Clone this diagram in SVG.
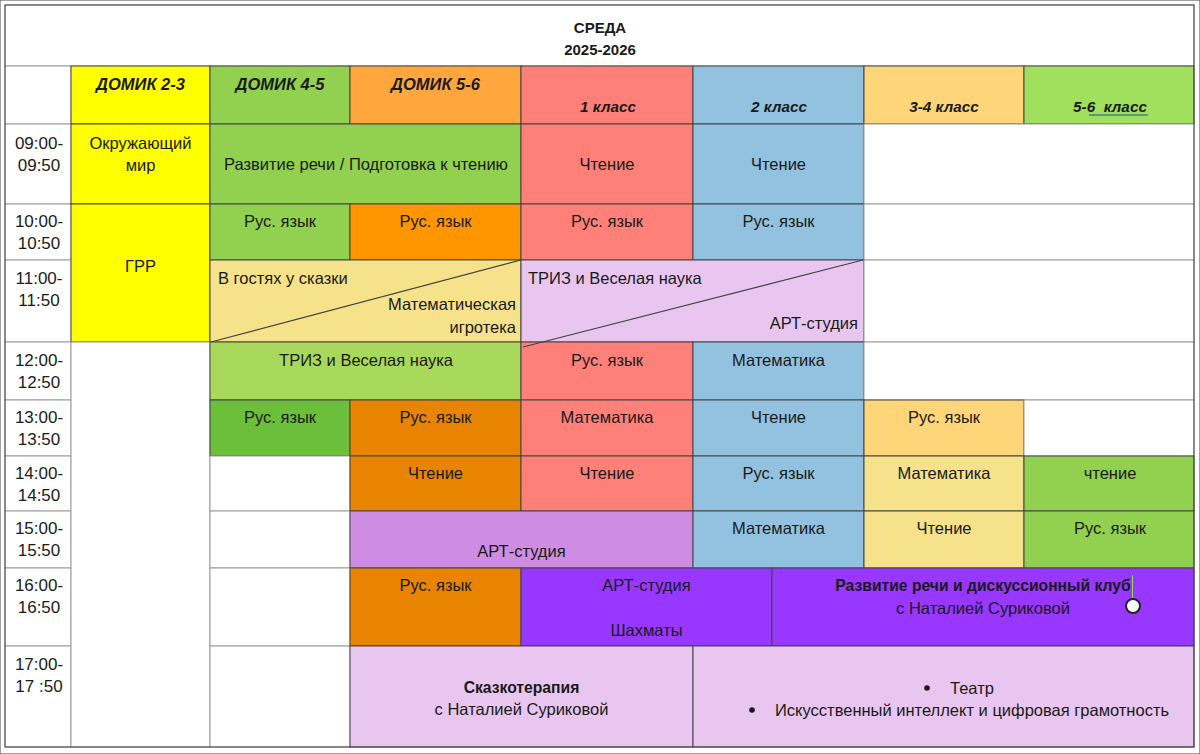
<svg xmlns="http://www.w3.org/2000/svg" width="1200" height="754" viewBox="0 0 1200 754">
<style>
text{font-family:"Liberation Sans",Arial,sans-serif;font-size:16.5px;fill:#1a1a1a}
.c{text-anchor:middle}
.r{text-anchor:end}
.b{font-weight:bold;font-size:15.7px}
.t{font-size:15px;font-weight:bold}
.h{font-weight:bold;font-style:italic;font-size:15.3px}
.hd{font-weight:bold;font-style:italic;font-size:16.5px}
.tm{font-size:17px}
rect{stroke:#444;stroke-width:1}
.w{fill:#fff;stroke:#999}
.diag{stroke:#444;stroke-width:1.2}
</style>
<rect x="0" y="0" width="1200" height="754" fill="#fff" stroke="none"/>
<g id="title">
<rect class="w" x="5" y="5" width="1189" height="61"/>
<text class="c t" x="600" y="33">СРЕДА</text>
<text class="c t" x="600" y="55">2025-2026</text>
</g>
<g id="header">
<rect class="w" x="5" y="66" width="66" height="58"/>
<rect x="71" y="66" width="139" height="58" fill="#FFFF00"/>
<rect x="210" y="66" width="140" height="58" fill="#92D050"/>
<rect x="350" y="66" width="171" height="58" fill="#FFA73D"/>
<rect x="521" y="66" width="172" height="58" fill="#FF8079"/>
<rect x="693" y="66" width="171" height="58" fill="#92C2DF"/>
<rect x="864" y="66" width="160" height="58" fill="#FFD579" stroke="#999"/>
<rect x="1024" y="66" width="170" height="58" fill="#A0E05C" stroke="#999"/>
<text class="c hd" x="140.5" y="90">ДОМИК 2-3</text>
<text class="c hd" x="280" y="90">ДОМИК 4-5</text>
<text class="c hd" x="435.5" y="90">ДОМИК 5-6</text>
<text class="c h" x="608" y="112">1 класс</text>
<text class="c h" x="779" y="112">2 класс</text>
<text class="c h" x="944" y="112">3-4 класс</text>
<text class="c h" x="1110" y="112">5-6&#160; класс</text>
<line x1="1089" y1="115" x2="1148" y2="115" stroke="#1F4FA8" stroke-width="1"/>
</g>
<g id="times">
<rect class="w" x="5" y="124" width="66" height="80"/>
<rect class="w" x="5" y="204" width="66" height="56"/>
<rect class="w" x="5" y="260" width="66" height="82"/>
<rect class="w" x="5" y="342" width="66" height="58"/>
<rect class="w" x="5" y="400" width="66" height="56"/>
<rect class="w" x="5" y="456" width="66" height="55"/>
<rect class="w" x="5" y="511" width="66" height="57"/>
<rect class="w" x="5" y="568" width="66" height="78"/>
<rect class="w" x="5" y="646" width="66" height="101"/>
<text class="c tm" x="39" y="149">09:00-</text><text class="c tm" x="39" y="171">09:50</text>
<text class="c tm" x="39" y="227">10:00-</text><text class="c tm" x="39" y="249">10:50</text>
<text class="c tm" x="39" y="284">11:00-</text><text class="c tm" x="39" y="306">11:50</text>
<text class="c tm" x="39" y="366">12:00-</text><text class="c tm" x="39" y="388">12:50</text>
<text class="c tm" x="39" y="423">13:00-</text><text class="c tm" x="39" y="445">13:50</text>
<text class="c tm" x="39" y="479">14:00-</text><text class="c tm" x="39" y="501">14:50</text>
<text class="c tm" x="39" y="534">15:00-</text><text class="c tm" x="39" y="556">15:50</text>
<text class="c tm" x="39" y="591">16:00-</text><text class="c tm" x="39" y="613">16:50</text>
<text class="c tm" x="39" y="670">17:00-</text><text class="c tm" x="39" y="692">17 :50</text>
</g>
<g id="row09">
<rect x="71" y="124" width="139" height="80" fill="#FFFF00"/>
<text class="c" x="140.5" y="149">Окружающий</text><text class="c" x="140.5" y="171">мир</text>
<rect x="210" y="124" width="311" height="80" fill="#92D050"/>
<text class="c" x="366" y="170">Развитие речи / Подготовка к чтению</text>
<rect x="521" y="124" width="172" height="80" fill="#FF8079"/>
<text class="c" x="607" y="170">Чтение</text>
<rect x="693" y="124" width="171" height="80" fill="#92C2DF"/>
<text class="c" x="778.5" y="170">Чтение</text>
<rect class="w" x="864" y="124" width="330" height="80"/>
</g>
<g id="row10">
<rect x="71" y="204" width="139" height="138" fill="#FFFF00"/>
<text class="c" x="140.5" y="272">ГРР</text>
<rect x="210" y="204" width="140" height="56" fill="#92D050"/>
<text class="c" x="280" y="227">Рус. язык</text>
<rect x="350" y="204" width="171" height="56" fill="#FF9500"/>
<text class="c" x="435.5" y="227">Рус. язык</text>
<rect x="521" y="204" width="172" height="56" fill="#FF8079"/>
<text class="c" x="607" y="227">Рус. язык</text>
<rect x="693" y="204" width="171" height="56" fill="#92C2DF"/>
<text class="c" x="778.5" y="227">Рус. язык</text>
<rect class="w" x="864" y="204" width="330" height="56"/>
</g>
<g id="row11">
<rect x="210" y="260" width="311" height="82" fill="#F5E28A"/>
<line class="diag" x1="211" y1="342" x2="521" y2="260"/>
<text x="218" y="284">В гостях у сказки</text>
<text class="r" x="516" y="310">Математическая</text>
<text class="r" x="516" y="333">игротека</text>
<rect x="521" y="260" width="343" height="82" fill="#E8C6F0"/>
<text x="528" y="284">ТРИЗ и Веселая наука</text>
<text class="r" x="858" y="329">АРТ-студия</text>
<rect class="w" x="864" y="260" width="330" height="82"/>
</g>
<g id="row12">
<rect class="w" x="71" y="342" width="139" height="405"/>
<rect x="210" y="342" width="311" height="58" fill="#A9D95B"/>
<text class="c" x="366" y="366">ТРИЗ и Веселая наука</text>
<rect x="521" y="342" width="172" height="58" fill="#FF8079"/>
<text class="c" x="607" y="366">Рус. язык</text>
<rect x="693" y="342" width="171" height="58" fill="#92C2DF"/>
<text class="c" x="778.5" y="366">Математика</text>
<rect class="w" x="864" y="342" width="330" height="58"/>
</g>
<g id="row13">
<rect x="210" y="400" width="140" height="56" fill="#6CBF3A"/>
<text class="c" x="280" y="423">Рус. язык</text>
<rect x="350" y="400" width="171" height="56" fill="#E88400"/>
<text class="c" x="435.5" y="423">Рус. язык</text>
<rect x="521" y="400" width="172" height="56" fill="#FF8079"/>
<text class="c" x="607" y="423">Математика</text>
<rect x="693" y="400" width="171" height="56" fill="#92C2DF"/>
<text class="c" x="778.5" y="423">Чтение</text>
<rect x="864" y="400" width="160" height="56" fill="#FFD579"/>
<text class="c" x="944" y="423">Рус. язык</text>
<rect class="w" x="1024" y="400" width="170" height="56"/>
</g>
<g id="row14">
<rect class="w" x="210" y="456" width="140" height="55"/>
<rect x="350" y="456" width="171" height="55" fill="#E88400"/>
<text class="c" x="435.5" y="479">Чтение</text>
<rect x="521" y="456" width="172" height="55" fill="#FF8079"/>
<text class="c" x="607" y="479">Чтение</text>
<rect x="693" y="456" width="171" height="55" fill="#92C2DF"/>
<text class="c" x="778.5" y="479">Рус. язык</text>
<rect x="864" y="456" width="160" height="55" fill="#F5E28A"/>
<text class="c" x="944" y="479">Математика</text>
<rect x="1024" y="456" width="170" height="55" fill="#92D050"/>
<text class="c" x="1110" y="479">чтение</text>
</g>
<g id="row15">
<rect class="w" x="210" y="511" width="140" height="57"/>
<rect x="350" y="511" width="343" height="57" fill="#CE8DE3"/>
<text class="c" x="521.5" y="557">АРТ-студия</text>
<rect x="693" y="511" width="171" height="57" fill="#92C2DF"/>
<text class="c" x="778.5" y="534">Математика</text>
<rect x="864" y="511" width="160" height="57" fill="#F5E28A"/>
<text class="c" x="944" y="534">Чтение</text>
<rect x="1024" y="511" width="170" height="57" fill="#92D050"/>
<text class="c" x="1110" y="534">Рус. язык</text>
</g>
<g id="row16">
<rect class="w" x="210" y="568" width="140" height="78"/>
<rect x="350" y="568" width="171" height="78" fill="#E88400"/>
<text class="c" x="435.5" y="591">Рус. язык</text>
<rect x="521" y="568" width="251" height="78" fill="#9737FF"/>
<text class="c" x="646.5" y="591">АРТ-студия</text>
<text class="c" x="646.5" y="636">Шахматы</text>
<rect x="772" y="568" width="422" height="78" fill="#9737FF"/>
<text class="c b" x="983" y="591">Развитие речи и дискуссионный клуб</text>
<text class="c" x="983" y="614">с Наталией Суриковой</text>
<line x1="1132.5" y1="575" x2="1132.5" y2="598" stroke="#8FD94A" stroke-width="1"/>
<circle cx="1133" cy="606" r="7" fill="#fff" stroke="#222" stroke-width="2"/>
</g>
<g id="row17">
<rect class="w" x="210" y="646" width="140" height="101"/>
<rect x="350" y="646" width="343" height="101" fill="#E8C6F0"/>
<text class="c b" x="521.5" y="693">Сказкотерапия</text>
<text class="c" x="521.5" y="715">с Наталией Суриковой</text>
<rect x="693" y="646" width="501" height="101" fill="#E8C6F0"/>
<circle cx="927" cy="688" r="2.8" fill="#1a1a1a"/>
<text x="950" y="694">Театр</text>
<circle cx="752" cy="710" r="2.8" fill="#1a1a1a"/>
<text x="775" y="716">Искусственный интеллект и цифровая грамотность</text>
</g>
<g id="connectors">
<line class="diag" x1="523" y1="347" x2="863" y2="260"/>
</g>
<rect x="5" y="5" width="1189" height="742" fill="none" stroke="#999" stroke-width="1.5"/>
</svg>
